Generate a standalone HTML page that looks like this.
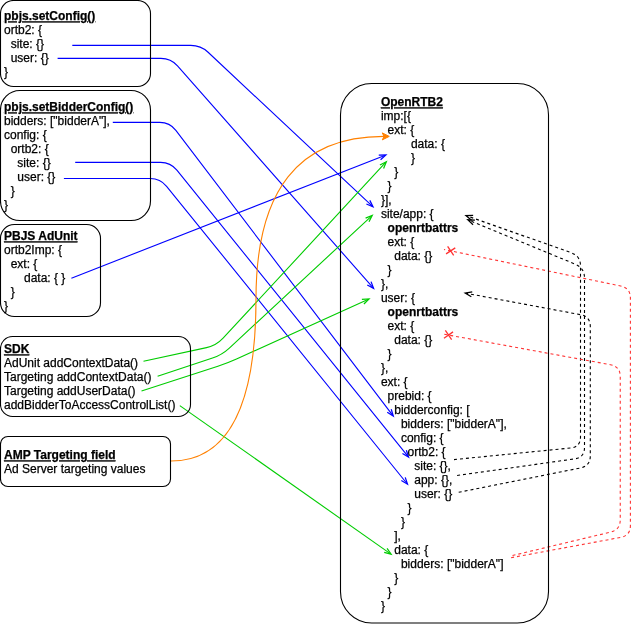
<!DOCTYPE html>
<html><head><meta charset="utf-8"><style>
html,body{margin:0;padding:0;background:#fff;width:639px;height:624px;overflow:hidden}
svg{display:block}
text{font-family:"Liberation Sans",sans-serif;font-size:12px;fill:#000;stroke:#000;stroke-width:0.25px}
text.b{font-weight:bold}
text.u{text-decoration:underline}
svg{will-change:transform}
</style></head><body>
<svg width="639" height="624" viewBox="0 0 639 624">
<rect width="639" height="624" fill="#fff"/>
<path d="M72.30,45.40 L190.80,45.40 Q200.80,45.40 208.10,52.24 L372.56,206.39" fill="none" stroke="#0000FF" stroke-width="1.1"/>
<path d="M366.40,204.04 L373.00,206.80 L369.82,200.39" fill="none" stroke="#0000FF" stroke-width="1.25" stroke-linejoin="miter"/>
<path d="M57.60,58.40 L160.90,58.40 Q170.90,58.40 177.51,65.90 L373.20,287.85" fill="none" stroke="#0000FF" stroke-width="1.1"/>
<path d="M367.29,284.93 L373.60,288.30 L371.04,281.62" fill="none" stroke="#0000FF" stroke-width="1.25" stroke-linejoin="miter"/>
<path d="M112.80,122.40 L159.80,122.40 Q169.80,122.40 175.86,130.36 L392.94,415.62" fill="none" stroke="#0000FF" stroke-width="1.1"/>
<path d="M387.25,412.28 L393.30,416.10 L391.23,409.25" fill="none" stroke="#0000FF" stroke-width="1.25" stroke-linejoin="miter"/>
<path d="M75.20,162.40 L160.60,162.40 Q170.60,162.40 176.88,170.18 L408.22,456.63" fill="none" stroke="#0000FF" stroke-width="1.1"/>
<path d="M402.45,453.46 L408.60,457.10 L406.34,450.32" fill="none" stroke="#0000FF" stroke-width="1.25" stroke-linejoin="miter"/>
<path d="M63.90,178.50 L150.30,178.50 Q160.30,178.50 166.59,186.28 L407.12,483.73" fill="none" stroke="#0000FF" stroke-width="1.1"/>
<path d="M401.34,480.56 L407.50,484.20 L405.23,477.42" fill="none" stroke="#0000FF" stroke-width="1.25" stroke-linejoin="miter"/>
<path d="M71.40,278.20 L385.34,155.22" fill="none" stroke="#0000FF" stroke-width="1.1"/>
<path d="M380.57,159.77 L385.90,155.00 L378.75,155.12" fill="none" stroke="#0000FF" stroke-width="1.25" stroke-linejoin="miter"/>
<path d="M143.50,361.30 L206.53,347.62 Q216.30,345.50 223.09,338.16 L385.89,162.24" fill="none" stroke="#00CC00" stroke-width="1.1"/>
<path d="M383.58,168.42 L386.30,161.80 L379.91,165.02" fill="none" stroke="#00CC00" stroke-width="1.25" stroke-linejoin="miter"/>
<path d="M157.60,376.30 L212.51,358.05 Q222.00,354.90 229.33,348.09 L371.76,215.81" fill="none" stroke="#00CC00" stroke-width="1.1"/>
<path d="M368.99,221.79 L372.20,215.40 L365.59,218.13" fill="none" stroke="#00CC00" stroke-width="1.25" stroke-linejoin="miter"/>
<path d="M141.50,391.00 L217.89,366.28 Q227.40,363.20 236.51,359.07 L368.45,299.15" fill="none" stroke="#00CC00" stroke-width="1.1"/>
<path d="M363.93,303.95 L369.00,298.90 L361.87,299.39" fill="none" stroke="#00CC00" stroke-width="1.25" stroke-linejoin="miter"/>
<path d="M179.80,405.60 L390.61,553.85" fill="none" stroke="#00CC00" stroke-width="1.1"/>
<path d="M384.18,552.39 L391.10,554.20 L387.06,548.30" fill="none" stroke="#00CC00" stroke-width="1.25" stroke-linejoin="miter"/>
<path d="M171.0,461.0 Q256.0,461.0 256.0,298.65 Q256.0,136.3 384.03,136.40" fill="none" stroke="#FF8000" stroke-width="1.1"/>
<path d="M389.28,136.40 L382.28,139.89 L384.03,136.40 L382.28,132.89 Z" fill="#FF8000" stroke="#FF8000" stroke-width="1"/>
<path d="M454.00,459.60 L570.55,447.99 Q580.50,447.00 580.50,437.00 L580.50,266.00 Q580.50,256.00 571.07,252.67 L466.57,215.80" fill="none" stroke="#000000" stroke-width="1.1" stroke-dasharray="3 3"/>
<path d="M473.15,215.47 L466.00,215.60 L471.49,220.19" fill="none" stroke="#000000" stroke-width="1.25" stroke-linejoin="miter"/>
<path d="M457.10,475.50 L574.60,458.90 Q584.50,457.50 584.50,447.50 L584.50,278.00 Q584.50,268.00 575.26,264.18 L468.35,220.03" fill="none" stroke="#000000" stroke-width="1.1" stroke-dasharray="3 3"/>
<path d="M474.95,220.05 L467.80,219.80 L473.04,224.67" fill="none" stroke="#000000" stroke-width="1.25" stroke-linejoin="miter"/>
<path d="M458.70,492.30 L580.49,467.96 Q590.30,466.00 590.30,456.00 L590.30,326.50 Q590.30,316.50 580.47,314.66 L465.79,293.21" fill="none" stroke="#000000" stroke-width="1.1" stroke-dasharray="3 3"/>
<path d="M472.25,291.87 L465.20,293.10 L471.33,296.79" fill="none" stroke="#000000" stroke-width="1.25" stroke-linejoin="miter"/>
<path d="M511.10,557.70 L620.57,537.42 Q630.40,535.60 630.40,525.60 L630.40,298.00 Q630.40,288.00 620.61,285.98 L444.00,249.50" fill="none" stroke="#FF3333" stroke-width="1.1" stroke-dasharray="3 3"/>
<path d="M453.69,255.48 L447.63,246.27 M455.27,247.84 L446.05,253.91" fill="none" stroke="#FF3333" stroke-width="1.3"/>
<path d="M512.50,555.50 L610.52,532.12 Q620.25,529.80 620.25,519.80 L620.25,376.50 Q620.25,366.50 610.41,364.70 L441.80,333.80" fill="none" stroke="#FF3333" stroke-width="1.1" stroke-dasharray="3 3"/>
<path d="M451.62,339.56 L445.36,330.49 M453.03,331.89 L443.95,338.16" fill="none" stroke="#FF3333" stroke-width="1.3"/>
<rect x="0.5" y="0.5" width="150.0" height="86.0" rx="12.9" ry="12.9" fill="none" stroke="#000" stroke-width="1.1"/>
<rect x="0.5" y="90.5" width="150.0" height="130.0" rx="19.5" ry="19.5" fill="none" stroke="#000" stroke-width="1.1"/>
<rect x="0.5" y="224.5" width="100.0" height="92.0" rx="13.8" ry="13.8" fill="none" stroke="#000" stroke-width="1.1"/>
<rect x="0.5" y="336.5" width="190.0" height="80.0" rx="12" ry="12" fill="none" stroke="#000" stroke-width="1.1"/>
<rect x="0.5" y="436.5" width="170.0" height="50.0" rx="7.5" ry="7.5" fill="none" stroke="#000" stroke-width="1.1"/>
<rect x="340.5" y="83.5" width="208.0" height="539.5" rx="31.2" ry="31.2" fill="none" stroke="#000" stroke-width="1.1"/>
<text x="4.00" y="20.30" class="b u">pbjs.setConfig()</text>
<text x="4.00" y="34.30">ortb2: {</text>
<text x="10.67" y="48.30">site: {}</text>
<text x="10.67" y="62.30">user: {}</text>
<text x="4.00" y="76.30">}</text>
<text x="4.00" y="111.30" class="b u">pbjs.setBidderConfig()</text>
<text x="4.00" y="125.30">bidders: [&quot;bidderA&quot;],</text>
<text x="4.00" y="139.30">config: {</text>
<text x="10.67" y="153.30">ortb2: {</text>
<text x="17.34" y="167.30">site: {}</text>
<text x="17.34" y="181.30">user: {}</text>
<text x="10.67" y="195.30">}</text>
<text x="4.00" y="209.30">}</text>
<text x="4.00" y="240.30" class="b u">PBJS AdUnit</text>
<text x="4.00" y="254.30">ortb2Imp: {</text>
<text x="10.67" y="268.30">ext: {</text>
<text x="24.00" y="282.30">data: { }</text>
<text x="10.67" y="296.30">}</text>
<text x="4.00" y="310.30">}</text>
<text x="4.00" y="353.30" class="b u">SDK</text>
<text x="4.00" y="367.30">AdUnit addContextData()</text>
<text x="4.00" y="381.30">Targeting addContextData()</text>
<text x="4.00" y="395.30">Targeting addUserData()</text>
<text x="4.00" y="409.30">addBidderToAccessControlList()</text>
<text x="4.00" y="459.30" class="b u">AMP Targeting field</text>
<text x="4.00" y="473.30">Ad Server targeting values</text>
<text x="380.90" y="106.30" class="b u">OpenRTB2</text>
<text x="380.90" y="120.30">imp:[{</text>
<text x="387.57" y="134.30">ext: {</text>
<text x="410.91" y="148.30">data: {</text>
<text x="410.91" y="162.30">}</text>
<text x="394.24" y="176.30">}</text>
<text x="387.57" y="190.30">}</text>
<text x="380.90" y="204.30">}],</text>
<text x="380.90" y="218.30">site/app: {</text>
<text x="387.57" y="232.30" class="b">openrtbattrs</text>
<text x="387.57" y="246.30">ext: {</text>
<text x="394.24" y="260.30">data: {}</text>
<text x="387.57" y="274.30">}</text>
<text x="380.90" y="288.30">},</text>
<text x="380.90" y="302.30">user: {</text>
<text x="387.57" y="316.30" class="b">openrtbattrs</text>
<text x="387.57" y="330.30">ext: {</text>
<text x="394.24" y="344.30">data: {}</text>
<text x="387.57" y="358.30">}</text>
<text x="380.90" y="372.30">},</text>
<text x="380.90" y="386.30">ext: {</text>
<text x="387.57" y="400.30">prebid: {</text>
<text x="394.24" y="414.30">bidderconfig: [</text>
<text x="400.90" y="428.30">bidders: [&quot;bidderA&quot;],</text>
<text x="400.90" y="442.30">config: {</text>
<text x="407.57" y="456.30">ortb2: {</text>
<text x="414.24" y="470.30">site: {},</text>
<text x="414.24" y="484.30">app: {},</text>
<text x="414.24" y="498.30">user: {}</text>
<text x="407.57" y="512.30">}</text>
<text x="400.90" y="526.30">}</text>
<text x="394.24" y="540.30">],</text>
<text x="394.24" y="554.30">data: {</text>
<text x="400.90" y="568.30">bidders: [&quot;bidderA&quot;]</text>
<text x="394.24" y="582.30">}</text>
<text x="387.57" y="596.30">}</text>
<text x="380.90" y="610.30">}</text>
</svg>
</body></html>
